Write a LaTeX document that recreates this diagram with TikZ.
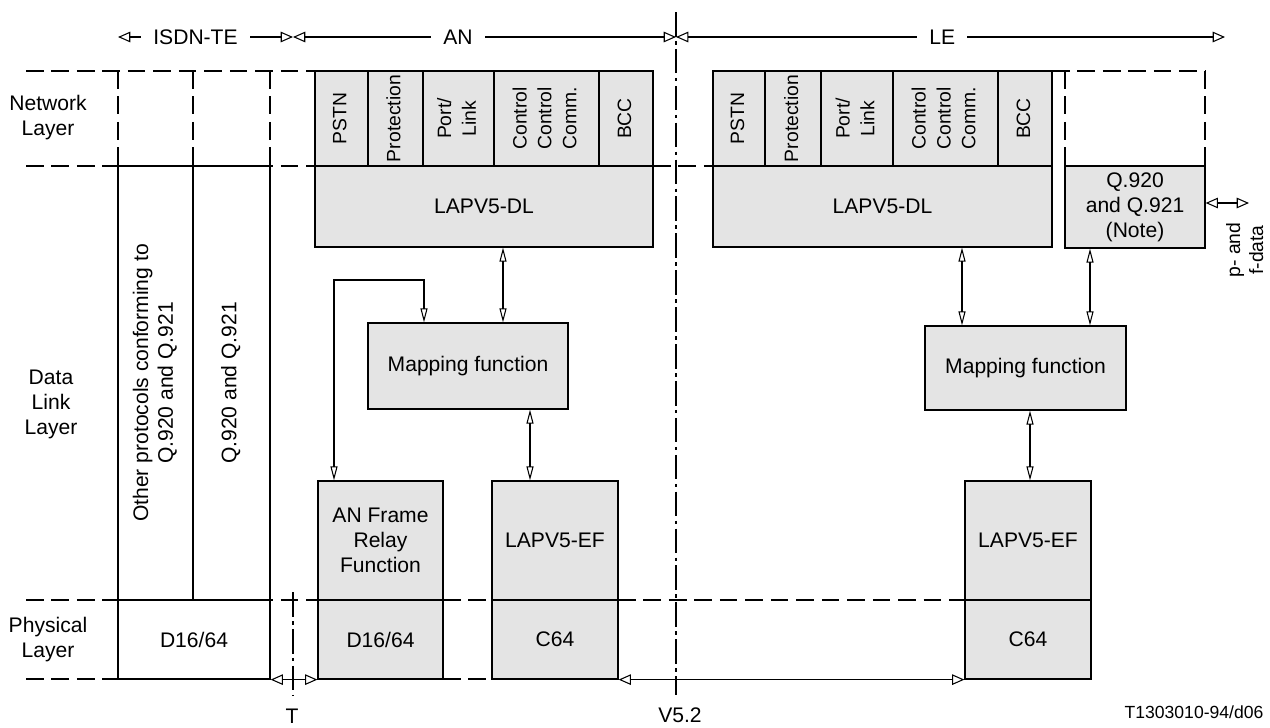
\documentclass[tikz,border=0pt]{standalone}
\usepackage{fontspec}
\setmainfont{Liberation Sans}
\usetikzlibrary{arrows.meta}

\definecolor{boxgray}{RGB}{228,228,228}
\newcommand{\vtxt}[1]{\rotatebox{90}{\begin{tabular}{@{}c@{}}#1\end{tabular}}}

\begin{document}
\begin{tikzpicture}[x=0.02cm, y=-0.02cm,
        font=\fontsize{12}{14.2}\selectfont,
        area/.style args={#1:#2:#3:#4}{at={({(#1+#3)/2},{(#2+#4)/2})},
            minimum width={(#3-#1)*0.02cm}, minimum height={(#4-#2)*0.02cm}},
        blk/.style={draw, line width=0.7pt, fill=boxgray, inner sep=0pt, align=center},
        wblk/.style={blk, fill=white},
        sub/.style={blk, font=\fontsize{11}{14.2}\selectfont},
        layer/.style={line width=0.6pt, dash pattern=on 10pt off 4.5pt},
        cut/.style={line width=0.6pt, dash pattern=on 14pt off 2.5pt on 2pt off 2.5pt},
        dbl/.style={line width=0.6pt, {Triangle[open,length=8pt,width=4pt]}-{Triangle[open,length=8pt,width=4pt]}},
        hdbl/.style={line width=0.6pt, {Triangle[open,length=7pt,width=6pt]}-{Triangle[open,length=7pt,width=6pt]}},
        hd/.style={fill=white, inner xsep=7pt, inner ysep=1pt},
        lbl/.style={align=center}]
        \useasboundingbox (0,0) rectangle (1270,727);

        % layer boundaries
        \draw[layer] (26,71) -- (315,71);
        \draw[layer] (26,166) -- (315,166) (653,166) -- (713,166);
        \draw[layer] (26,600) -- (318,600) (443,600) -- (492,600) (618,600) -- (965,600);
        \draw[layer] (26,679) -- (118,679) (443,679) -- (492,679);
        \draw[layer] (118,71) -- (118,166) (193,71) -- (193,166) (270,71) -- (270,166);
        \draw[layer] (1052,71) -- (1205,71) (1065,71) -- (1065,166) (1205,71) -- (1205,166);

        \node[lbl] (lyNet) at (48,118) {Network\\Layer};
        \node[lbl] (lyDL) at (51,404) {Data\\Link\\Layer};
        \node[lbl] (lyPhy) at (48,640) {Physical\\Layer};

        % ISDN-TE
        \node[wblk, area=118:166:193:600] (teOth) {\vtxt{Other protocols conforming to\\Q.920 and Q.921}};
        \node[wblk, area=193:166:270:600] (teQ) {\vtxt{Q.920 and Q.921}};
        \node[wblk, area=118:600:270:679] (tePhy) {D16/64};

        % AN
        \node[sub, area=315:71:368:166] (anPSTN) {\vtxt{PSTN}};
        \node[sub, area=368:71:423:166] (anProt) {\vtxt{Protection}};
        \node[sub, area=423:71:494:166] (anPort) {\vtxt{Port/\\Link}};
        \node[sub, area=494:71:599:166] (anCtrl) {\vtxt{Control\\Control\\Comm.}};
        \node[sub, area=599:71:653:166] (anBCC) {\vtxt{BCC}};
        \node[blk, area=315:166:653:247] (anDL) {LAPV5-DL};
        \node[blk, area=368:323:568:409] (anMap) {Mapping function};
        \node[blk, area=318:481:443:600] (anFR) {AN Frame\\Relay\\Function};
        \node[blk, area=318:600:443:679] (anPhy) {D16/64};
        \node[blk, area=492:481:618:600] (anEF) {LAPV5-EF};
        \node[blk, area=492:600:618:679] (anC64) {C64};

        % LE
        \node[sub, area=713:71:765:166] (lePSTN) {\vtxt{PSTN}};
        \node[sub, area=765:71:821:166] (leProt) {\vtxt{Protection}};
        \node[sub, area=821:71:893:166] (lePort) {\vtxt{Port/\\Link}};
        \node[sub, area=893:71:998:166] (leCtrl) {\vtxt{Control\\Control\\Comm.}};
        \node[sub, area=998:71:1052:166] (leBCC) {\vtxt{BCC}};
        \node[blk, area=713:166:1052:247] (leDL) {LAPV5-DL};
        \node[blk, area=1065:166:1205:248] (leQ) {Q.920\\and Q.921\\(Note)};
        \node[blk, area=925:326:1126:410] (leMap) {Mapping function};
        \node[blk, area=965:481:1091:600] (leEF) {LAPV5-EF};
        \node[blk, area=965:600:1091:679] (leC64) {C64};

        % reference points
        \draw[cut] (676,12) -- (676,695);
        \draw[cut] (293,592) -- (293,695);
        \node (lblT) at (292,716) {T};
        \node (lblV) at (680,715) {V5.2};
        \node[font=\fontsize{10}{12}\selectfont] (lblRef) at (1194,712) {T1303010-94/d06};

        % header
        \coordinate (hdL) at (118,37);
        \coordinate (hdT) at (293,37);
        \coordinate (hdV) at (676,37);
        \coordinate (hdR) at (1225,37);
        \draw[hdbl] (hdL) -- node[hd, pos=0.443] (hISDN) {ISDN-TE} (hdT);
        \draw[hdbl] (hdT) -- node[hd, pos=0.431] (hAN) {AN} (hdV);
        \draw[hdbl] (hdV) -- node[hd, pos=0.485] (hLE) {LE} (hdR);

        % connectors
        \coordinate (loopC) at (334,280);
        \draw[dbl] (anDL.south -| 503,0) -- (anMap.north -| 503,0);
        \draw[dbl] (anMap.north -| 424,0) |- (loopC) -- (anFR.north -| loopC);
        \draw[dbl] (anMap.south -| 530,0) -- (anEF.north -| 530,0);
        \draw[dbl] (leDL.south -| 962,0) -- (leMap.north -| 962,0);
        \draw[dbl] (leQ.south -| 1090,0) -- (leMap.north -| 1090,0);
        \draw[dbl] (leMap.south -| 1030,0) -- (leEF.north -| 1030,0);
        \draw[hdbl] (tePhy.south east) -- (anPhy.south west);
        \draw[hdbl] (anC64.south east) -- (leC64.south west);
        \coordinate (pfEnd) at (1249,203);
        \draw[hdbl] (leQ.east |- pfEnd) -- (pfEnd);
        \node[font=\fontsize{11}{13}\selectfont] (lblPF) at (1247,250) {\vtxt{p- and\\f-data}};
    \end{tikzpicture}
\end{document}
